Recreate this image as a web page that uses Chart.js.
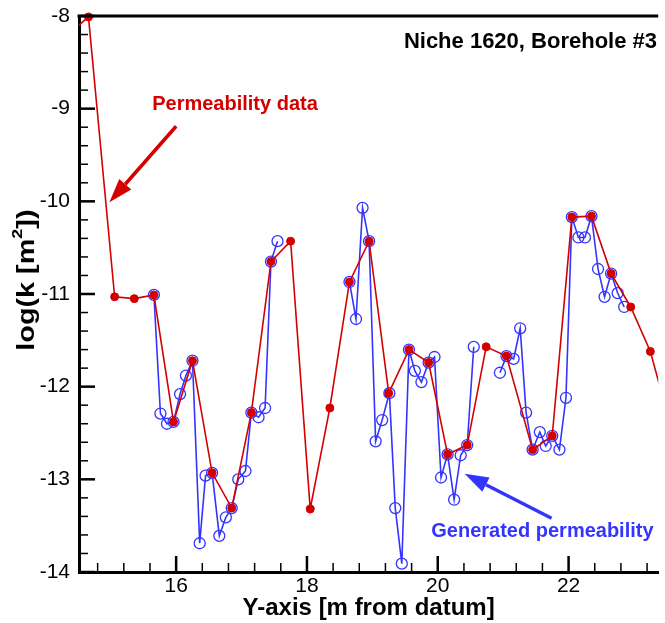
<!DOCTYPE html>
<html>
<head>
<meta charset="utf-8">
<script src="https://cdn.jsdelivr.net/npm/chart.js@4.4.0/dist/chart.umd.min.js"></script>
<style>
html, body { margin: 0; padding: 0; background: #fff; }
</style>
</head>
<body>
<canvas id="chart" width="665" height="623"></canvas>
<script>
// Permeability data (red, filled dots)
const dataX = [14.35, 14.66, 15.06, 15.36, 15.66, 15.96, 16.25, 16.55, 16.85, 17.15, 17.45, 17.75,
    18.05, 18.35, 18.65, 18.95, 19.25, 19.56, 19.86, 20.15, 20.45, 20.74, 21.05, 21.45, 21.75,
    22.05, 22.35, 22.65, 22.95, 23.25, 23.55];
const dataY = [-8.2, -8.01, -11.03, -11.05, -11.01, -12.38, -11.72, -12.93, -13.31, -12.28, -10.65, -10.43,
    -13.32, -12.23, -10.87, -10.43, -12.07, -11.60, -11.74, -12.73, -12.63, -11.57, -11.67, -12.68, -12.53,
    -10.17, -10.16, -10.78, -11.14, -11.62, -12.4];

// Generated permeability (blue, open circles); null = gap in the line
const genX = [15.66, 15.76, 15.86, 15.96, 16.06, 16.15, 16.25, 16.36, 16.45, 16.55, 16.66, 16.76, 16.85,
    16.95, 17.06, 17.15, 17.26, 17.36, 17.45, 17.55, 18.1,
    18.65, 18.75, 18.85, 18.95, 19.05, 19.15, 19.26, 19.35, 19.45, 19.56, 19.65, 19.75, 19.86, 19.95,
    20.05, 20.15, 20.25, 20.35, 20.45, 20.55, 20.75,
    20.95, 21.05, 21.16, 21.26, 21.35, 21.45, 21.56, 21.65, 21.75, 21.86, 21.96, 22.05, 22.15, 22.25,
    22.35, 22.45, 22.55, 22.65, 22.75, 22.85];
const genY = [-11.01, -12.29, -12.40, -12.38, -12.08, -11.88, -11.72, -13.69, -12.96, -12.93, -13.61, -13.41, -13.31,
    -13.00, -12.91, -12.28, -12.33, -12.23, -10.65, -10.43, null,
    -10.87, -11.27, -10.07, -10.43, -12.59, -12.36, -12.07, -13.31, -13.91, -11.60, -11.83, -11.95, -11.74, -11.68,
    -12.98, -12.73, -13.22, -12.74, -12.63, -11.57, null,
    -11.85, -11.67, -11.70, -11.37, -12.28, -12.68, -12.49, -12.64, -12.53, -12.68, -12.12, -10.17, -10.39, -10.39,
    -10.16, -10.73, -11.03, -10.78, -10.99, -11.14];

const xTickLabels = [16, 18, 20, 22];
const yTickLabels = [-14, -13, -12, -11, -10, -9, -8];

const RED = '#d40000';
const BLUE = '#3434ff';
const tickFont = { family: '"Liberation Sans", Arial, sans-serif', size: 21 };

const pairs = (xs, ys) => xs.map((x, i) => ({ x: x, y: ys[i] }));

const decor = {
    id: 'decor',
    afterDatasetsDraw(chart) {
        const { ctx, chartArea: a, scales: { x, y } } = chart;
        ctx.save();
        // top frame line
        ctx.strokeStyle = '#000';
        ctx.lineWidth = 3;
        ctx.beginPath();
        ctx.moveTo(a.left - 1.5, a.top);
        ctx.lineTo(a.right, a.top);
        ctx.stroke();

        // inward tick marks
        ctx.lineCap = 'butt';
        for (let k = 37; k <= 59; k++) {
            const px = x.getPixelForValue(k * 0.4);
            if (px < a.left + 2 || px > a.right) continue;
            const major = k % 5 === 0;
            ctx.lineWidth = major ? 2.5 : 1.5;
            ctx.beginPath();
            ctx.moveTo(px, a.bottom);
            ctx.lineTo(px, a.bottom - (major ? 16 : 9));
            ctx.stroke();
        }
        for (let k = -70; k <= -40; k++) {
            const py = y.getPixelForValue(k * 0.2);
            const major = k % 5 === 0;
            ctx.lineWidth = major ? 2.5 : 1.5;
            ctx.beginPath();
            ctx.moveTo(a.left, py);
            ctx.lineTo(a.left + (major ? 16 : 9), py);
            ctx.stroke();
        }

        // y axis title with superscript (stretched along its length like the original)
        ctx.save();
        ctx.translate(27, y.getPixelForValue(-10.85));
        ctx.rotate(-Math.PI / 2);
        ctx.scale(1.2, 1);
        ctx.fillStyle = '#000';
        ctx.textBaseline = 'middle';
        const big = 'bold 24px "Liberation Sans", Arial, sans-serif';
        const small = 'bold 15px "Liberation Sans", Arial, sans-serif';
        const p1 = 'log(k [m', p2 = '2', p3 = '])';
        ctx.font = big;
        const w1 = ctx.measureText(p1).width, w3 = ctx.measureText(p3).width;
        ctx.font = small;
        const w2 = ctx.measureText(p2).width;
        let cx = -(w1 + w2 + w3) / 2;
        ctx.font = big;
        ctx.textAlign = 'left';
        ctx.fillText(p1, cx, 0);
        cx += w1;
        ctx.font = small;
        ctx.fillText(p2, cx, -9);
        cx += w2;
        ctx.font = big;
        ctx.fillText(p3, cx, 0);
        ctx.restore();

        // title
        ctx.fillStyle = '#000';
        ctx.font = 'bold 22px "Liberation Sans", Arial, sans-serif';
        ctx.textAlign = 'right';
        ctx.textBaseline = 'alphabetic';
        ctx.fillText('Niche 1620, Borehole #3', 657, 48);

        // annotations
        function arrow(x0, y0, x1, y1, color) {
            const X0 = x.getPixelForValue(x0), Y0 = y.getPixelForValue(y0);
            const X1 = x.getPixelForValue(x1), Y1 = y.getPixelForValue(y1);
            const ang = Math.atan2(Y1 - Y0, X1 - X0);
            const len = 24, half = 8;
            const bx = X1 - len * Math.cos(ang), by = Y1 - len * Math.sin(ang);
            ctx.strokeStyle = color;
            ctx.fillStyle = color;
            ctx.lineWidth = 3.5;
            ctx.beginPath();
            ctx.moveTo(X0, Y0);
            ctx.lineTo(bx, by);
            ctx.stroke();
            ctx.beginPath();
            ctx.moveTo(X1, Y1);
            ctx.lineTo(bx + half * Math.sin(ang), by - half * Math.cos(ang));
            ctx.lineTo(bx - half * Math.sin(ang), by + half * Math.cos(ang));
            ctx.closePath();
            ctx.fill();
        }
        arrow(16.0, -9.19, 14.98, -10.01, RED);
        arrow(21.74, -13.42, 20.41, -12.94, BLUE);

        ctx.font = 'bold 20px "Liberation Sans", Arial, sans-serif';
        ctx.textAlign = 'center';
        ctx.textBaseline = 'middle';
        ctx.fillStyle = RED;
        ctx.fillText('Permeability data', x.getPixelForValue(16.9), y.getPixelForValue(-8.96));
        ctx.fillStyle = BLUE;
        ctx.fillText('Generated permeability', x.getPixelForValue(21.6), y.getPixelForValue(-13.56));
        ctx.restore();
    }
};

new Chart(document.getElementById('chart'), {
    type: 'scatter',
    data: {
        datasets: [
            {
                label: 'Permeability data',
                data: pairs(dataX, dataY),
                showLine: true,
                borderColor: RED,
                borderWidth: 1.6,
                backgroundColor: RED,
                pointBackgroundColor: RED,
                pointBorderColor: RED,
                pointRadius: 4,
                pointBorderWidth: 1,
                clip: { left: 0, top: 8, right: 0, bottom: 0 }
            },
            {
                label: 'Generated permeability',
                data: pairs(genX, genY),
                showLine: true,
                spanGaps: false,
                borderColor: BLUE,
                borderWidth: 1.6,
                backgroundColor: 'rgba(0,0,0,0)',
                pointBackgroundColor: 'rgba(0,0,0,0)',
                pointBorderColor: BLUE,
                pointRadius: 5.5,
                pointBorderWidth: 1.3
            }
        ]
    },
    options: {
        responsive: false,
        animation: false,
        devicePixelRatio: 1,
        layout: { padding: { top: 16, left: 0, right: 0, bottom: 0 } },
        plugins: { legend: { display: false }, tooltip: { enabled: false } },
        scales: {
            x: {
                type: 'linear',
                min: 14.515,
                max: 23.37,
                afterBuildTicks: s => { s.ticks = xTickLabels.map(v => ({ value: v })); },
                afterFit: s => { s.height = 51; s.paddingLeft = 0; s.paddingRight = 0; },
                grid: { display: false, drawTicks: false },
                border: { display: true, color: '#000', width: 3 },
                ticks: { color: '#000', font: tickFont, padding: 2, maxRotation: 0 },
                title: {
                    display: true,
                    text: 'Y-axis [m from datum]',
                    color: '#000',
                    font: { family: '"Liberation Sans", Arial, sans-serif', size: 24, weight: 'bold' },
                    padding: { top: 0, bottom: 0 }
                }
            },
            y: {
                type: 'linear',
                min: -14,
                max: -8,
                afterBuildTicks: s => { s.ticks = yTickLabels.map(v => ({ value: v })); },
                afterFit: s => { s.width = 79; s.paddingTop = 0; s.paddingBottom = 0; },
                grid: { display: false, drawTicks: false },
                border: { display: true, color: '#000', width: 3 },
                ticks: { color: '#000', font: tickFont, padding: 9 }
            }
        }
    },
    plugins: [decor]
});
</script>
</body>
</html>
